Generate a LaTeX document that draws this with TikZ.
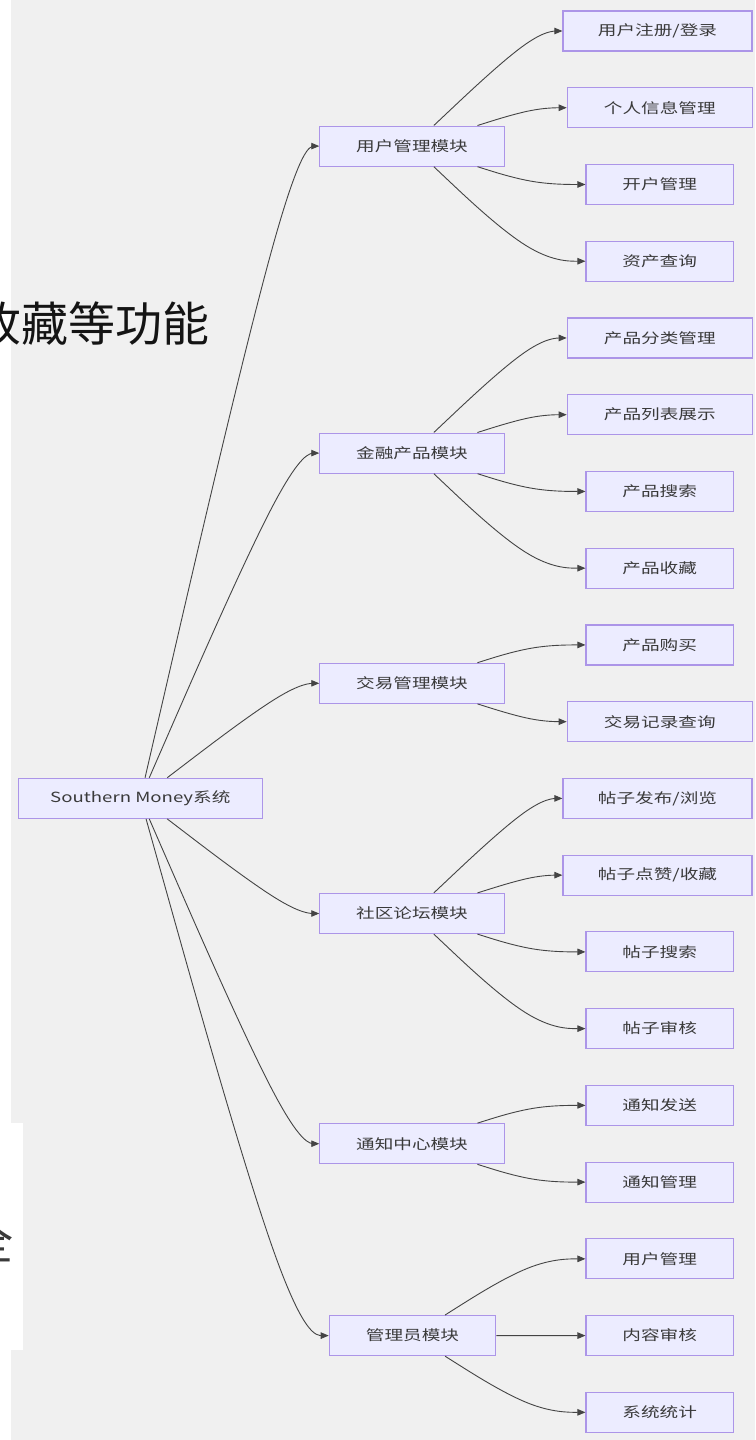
\documentclass[tikz,border=0pt]{standalone}
\usepackage{fontspec}
\usetikzlibrary{calc,arrows.meta}
\newfontfamily\nodefont[FakeStretch=1.33]{Noto Sans CJK SC}
\newfontfamily\bigcjk{Noto Sans CJK SC}
\definecolor{bg}{HTML}{F0F0F0}
\definecolor{nfill}{HTML}{ECECFF}
\definecolor{nborder}{HTML}{AC95E8}
\definecolor{ntext}{HTML}{3A3A3A}
\definecolor{ecol}{HTML}{444444}
\tikzset{
  box/.style={draw=nborder, fill=nfill, line width=1.2pt, minimum height=40pt,
    inner sep=0pt, text=ntext, font=\nodefont\fontsize{14pt}{16pt}\selectfont},
  wide/.style={box, minimum width=189pt},
  six/.style={box, minimum width=185pt},
  four/.style={box, minimum width=147.3pt},
  mid/.style={box, minimum width=184.3pt},
  edge/.style={draw=ecol, line width=0.9pt, -{Triangle[length=8pt,width=6.5pt]}},
  bigtext/.style={inner sep=0pt, font=\bigcjk\fontsize{47pt}{47pt}\selectfont},
}
\newcommand{\bedge}[3]{%
  \path (#3,0) coordinate (bx);
  \path (bx |- #2.west) coordinate (bpone);
  \pgfcoordinate{bpzero}{\pgfpointshapeborder{#1}{\pgfpointanchor{bpone}{center}}}
  \path ($(bpzero)!0.5!(#2.west)$) coordinate (bpm);
  \draw[edge] (#1) -- ($(bpzero)!1/6!(bpone)$)
    .. controls ($(bpzero)!1/3!(bpone)$) and ($(bpzero)!2/3!(bpone)$) .. ($(bpone)!1/3!(bpm)$)
    .. controls ($(bpone)!1/3!(#2.west)$) and ($(bpone)!2/3!(#2.west)$) .. ($(bpone)!5/6!(#2.west)$)
    -- (#2.west);
}
\begin{document}
\begin{tikzpicture}[x=1pt,y=-1pt]
\useasboundingbox (0,0) rectangle (755,1440);
\fill[white] (0,0) rectangle (755,1440);
\fill[bg] (11,0) rectangle (755,1440);
\fill[white] (0,1123) rectangle (23,1350);
\node[bigtext, anchor=base west, text=black!92] (t1) at (-26,341) {收藏等功能};
\node[bigtext, anchor=base east, text=ntext] (t2) at (14,1259) {全};

% root
\node[box, minimum width=244pt] (root) at (140.3,798.3) {Southern Money系统};
% modules
\node[mid] (m1) at (412,146.1) {用户管理模块};
\node[mid] (m2) at (412,453.1) {金融产品模块};
\node[mid] (m3) at (412,683.3) {交易管理模块};
\node[mid] (m4) at (412,913.5) {社区论坛模块};
\node[mid] (m5) at (412,1143.7) {通知中心模块};
\node[box, minimum width=166.4pt] (m6) at (412.5,1335.6) {管理员模块};
% leaves
\node[wide] (l0) at (657.5,31) {用户注册/登录};
\node[six]  (l1) at (659.8,107.74) {个人信息管理};
\node[four] (l2) at (659.7,184.48) {开户管理};
\node[four] (l3) at (659.7,261.22) {资产查询};
\node[six]  (l4) at (659.8,337.96) {产品分类管理};
\node[six]  (l5) at (659.8,414.70) {产品列表展示};
\node[four] (l6) at (659.7,491.44) {产品搜索};
\node[four] (l7) at (659.7,568.18) {产品收藏};
\node[four] (l8) at (659.7,644.92) {产品购买};
\node[six]  (l9) at (659.8,721.66) {交易记录查询};
\node[wide] (l10) at (657.5,798.40) {帖子发布/浏览};
\node[wide] (l11) at (657.5,875.14) {帖子点赞/收藏};
\node[four] (l12) at (659.7,951.88) {帖子搜索};
\node[four] (l13) at (659.7,1028.62) {帖子审核};
\node[four] (l14) at (659.7,1105.36) {通知发送};
\node[four] (l15) at (659.7,1182.10) {通知管理};
\node[four] (l16) at (659.7,1258.84) {用户管理};
\node[four] (l17) at (659.7,1335.58) {内容审核};
\node[four] (l18) at (659.7,1412.32) {系统统计};

% edges root -> modules
\bedge{root}{m1}{291}
\bedge{root}{m2}{291}
\bedge{root}{m3}{291}
\bedge{root}{m4}{291}
\bedge{root}{m5}{291}
\bedge{root}{m6}{291}
% modules -> leaves
\bedge{m1}{l0}{534}
\bedge{m1}{l1}{534}
\bedge{m1}{l2}{534}
\bedge{m1}{l3}{534}
\bedge{m2}{l4}{534}
\bedge{m2}{l5}{534}
\bedge{m2}{l6}{534}
\bedge{m2}{l7}{534}
\bedge{m3}{l8}{534}
\bedge{m3}{l9}{534}
\bedge{m4}{l10}{534}
\bedge{m4}{l11}{534}
\bedge{m4}{l12}{534}
\bedge{m4}{l13}{534}
\bedge{m5}{l14}{534}
\bedge{m5}{l15}{534}
\bedge{m6}{l16}{534}
\bedge{m6}{l17}{534}
\bedge{m6}{l18}{534}
\end{tikzpicture}
\end{document}
